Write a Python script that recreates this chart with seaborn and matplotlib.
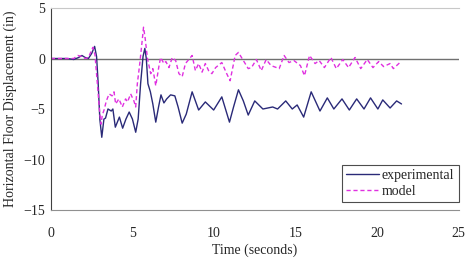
import matplotlib
matplotlib.use('Agg')
import matplotlib.pyplot as plt
import pandas as pd
import seaborn as sns

# values
t_exp = [0.0, 1.0, 1.4, 1.7, 1.9, 2.1, 2.3, 2.5, 2.68, 2.8, 2.9, 3.0, 3.12, 3.25,
         3.35, 3.5, 3.7, 3.8, 3.95, 4.2, 4.4, 4.6, 4.8, 5.0, 5.2, 5.35, 5.5, 5.65,
         5.76, 5.85, 5.95, 6.1, 6.25, 6.43, 6.6, 6.75, 6.93, 7.1, 7.34, 7.6, 7.8,
         8.05, 8.3, 8.66, 9.06, 9.47, 9.98, 10.48, 10.95, 11.2, 11.5, 11.8, 12.1,
         12.5, 13.0, 13.3, 13.6, 13.9, 14.4, 14.8, 15.1, 15.5, 15.96, 16.5, 16.95,
         17.35, 17.85, 18.3, 18.75, 19.2, 19.6, 20.05, 20.35, 20.8, 21.2, 21.5]
y_exp = [0.0, 0.0, -0.1, 0.1, 0.3, 0.1, 0.0, 0.5, 1.2, 0.2, -2.5, -6.0, -7.8, -6.0,
         -5.9, -5.0, -5.2, -5.0, -6.8, -5.8, -6.9, -6.0, -5.3, -6.0, -7.3, -6.0, -2.5, 0.2,
         1.0, 0.0, -2.5, -3.3, -4.5, -6.3, -4.8, -3.6, -4.4, -4.0, -3.6, -3.7, -4.8,
         -6.4, -5.5, -3.3, -5.1, -4.3, -5.1, -3.8, -6.3, -4.8, -3.1, -4.2, -5.6,
         -4.2, -5.0, -4.9, -4.8, -5.0, -4.2, -5.0, -4.6, -5.8, -3.3, -5.2, -3.9,
         -5.0, -4.0, -5.1, -4.0, -5.0, -3.9, -5.0, -4.1, -4.9, -4.2, -4.5]

t_mod = [0.0, 1.0, 1.4, 1.65, 1.9, 2.1, 2.3, 2.57, 2.7, 2.85, 3.0, 3.08, 3.15, 3.26,
         3.4, 3.57, 3.75, 3.87, 3.97, 4.17, 4.38, 4.58, 4.7, 4.89, 5.09, 5.2, 5.3,
         5.45, 5.58, 5.68, 5.78, 5.92, 6.12, 6.25, 6.43, 6.63, 6.73, 6.93, 7.05,
         7.24, 7.44, 7.65, 7.85, 8.05, 8.25, 8.66, 8.86, 9.06, 9.27, 9.47, 9.67,
         9.87, 10.1, 10.48, 10.78, 10.99, 11.3, 11.5, 11.8, 12.1, 12.3, 12.6, 12.9,
         13.2, 13.5, 14.0, 14.3, 14.6, 14.9, 15.3, 15.55, 15.86, 16.2, 16.45, 16.77,
         17.17, 17.5, 17.9, 18.25, 18.65, 19.0, 19.4, 19.75, 20.1, 20.4, 20.8, 21.0, 21.4]
y_mod = [0.0, 0.0, 0.0, 0.3, 0.2, 0.0, 0.1, 1.1, 0.4, -2.5, -5.5, -6.5, -5.6, -5.1,
         -4.2, -3.5, -3.7, -3.3, -4.5, -4.0, -4.8, -4.0, -4.3, -3.5, -4.2, -4.8, -2.5,
         -0.5, 1.5, 3.1, 2.0, 0.0, -1.5, -1.0, -2.7, -0.7, 0.1, -0.5, -0.3,
         -0.9, 0.1, -0.2, -1.5, -1.8, -0.5, 0.3, -1.2, -0.5, -1.35, -0.5, -1.2,
         -1.5, -0.9, -0.4, -1.5, -2.2, 0.3, 0.6, -0.2, -1.0, -0.9, -0.1, -1.2,
         -0.1, -0.7, -1.0, 0.3, -0.4, -0.2, -0.7, -1.7, 0.3, -0.5, -0.2, -0.9,
         0.1, -1.0, -0.1, -0.9, 0.1, -1.0, -0.1, -0.9, -0.3, -0.8, -0.5, -1.0, -0.4]

exp_df = pd.DataFrame({'t': t_exp, 'y': y_exp})
mod_df = pd.DataFrame({'t': t_mod, 'y': y_mod})

sns.set_style('white')
plt.rcParams['font.family'] = ['Liberation Serif', 'DejaVu Serif']

fig = plt.figure(figsize=(4.67, 2.58), dpi=100)
ax = fig.add_axes([0.109, 0.186, 0.873, 0.783])

ax.axhline(0, color='#707070', lw=1.0, zorder=1)
sns.lineplot(data=exp_df, x='t', y='y', ax=ax, color='#2a2a78', lw=1.0,
             label='experimental')
sns.lineplot(data=mod_df, x='t', y='y', ax=ax, color='#e030e0', lw=1.0,
             label='model')
ax.lines[-1].set_linestyle((0, (3, 2)))

ax.set_xlim(0, 25)
ax.set_ylim(-15, 5)
ax.set_xticks([0, 5, 10, 15, 20, 25])
ax.set_yticks([5, 0, -5, -10, -15])
ax.tick_params(axis='x', length=0, pad=12, labelsize=10)
ax.tick_params(axis='y', length=3, pad=4, labelsize=10, direction='in')
ax.set_xlabel('Time (seconds)', fontsize=10, labelpad=3)
ax.set_ylabel('Horizontal Floor Displacement (in)', fontsize=10, labelpad=5)

ax.spines['right'].set_visible(False)
ax.spines['top'].set_color('#c8c8c8')
ax.spines['bottom'].set_color('#909090')
ax.spines['left'].set_color('#404040')

leg = ax.legend(loc='lower right', bbox_to_anchor=(1.0, 0.04), fontsize=10,
                frameon=True, fancybox=False, handlelength=2.4, borderaxespad=0,
                borderpad=0.3, labelspacing=0.2, handletextpad=0.2)
leg.get_frame().set_edgecolor('#202020')
leg.get_frame().set_linewidth(0.8)

fig.savefig('out.png', dpi=100)
